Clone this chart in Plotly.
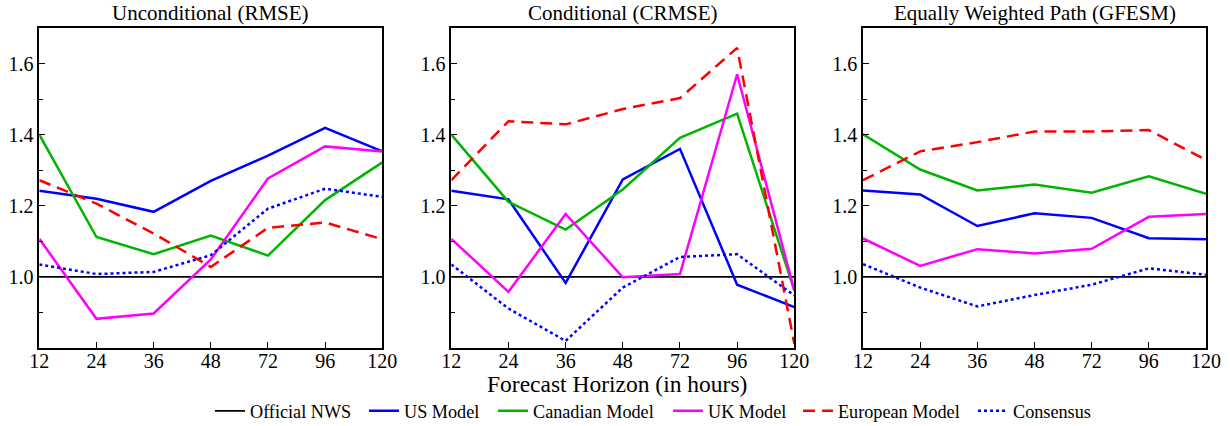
import plotly.graph_objects as go

horizons = ["12", "24", "36", "48", "72", "96", "120"]
panel_titles = ["Unconditional (RMSE)", "Conditional (CRMSE)", "Equally Weighted Path (GFESM)"]
series_names = ["Official NWS", "US Model", "Canadian Model", "UK Model", "European Model", "Consensus"]

official = [1.0, 1.0, 1.0, 1.0, 1.0, 1.0, 1.0]

# Unconditional (RMSE)
us_unc = [1.242, 1.220, 1.183, 1.270, 1.341, 1.419, 1.353]
can_unc = [1.400, 1.112, 1.064, 1.116, 1.060, 1.216, 1.322]
uk_unc = [1.107, 0.882, 0.897, 1.049, 1.277, 1.367, 1.353]
eu_unc = [1.272, 1.206, 1.122, 1.028, 1.138, 1.153, 1.106]
cons_unc = [1.035, 1.008, 1.014, 1.061, 1.192, 1.248, 1.225]

# Conditional (CRMSE)
us_con = [1.242, 1.218, 0.983, 1.274, 1.360, 0.978, 0.915]
can_con = [1.400, 1.211, 1.133, 1.246, 1.391, 1.459, 0.962]
uk_con = [1.107, 0.958, 1.177, 0.999, 1.008, 1.570, 0.962]
eu_con = [1.272, 1.438, 1.429, 1.472, 1.503, 1.644, 0.812]
cons_con = [1.035, 0.911, 0.820, 0.970, 1.056, 1.064, 0.948]

# Equally Weighted Path (GFESM)
us_gf = [1.243, 1.232, 1.143, 1.179, 1.166, 1.109, 1.106]
can_gf = [1.401, 1.302, 1.243, 1.260, 1.237, 1.283, 1.234]
uk_gf = [1.108, 1.031, 1.078, 1.066, 1.079, 1.169, 1.177]
eu_gf = [1.272, 1.353, 1.379, 1.409, 1.409, 1.413, 1.329]
cons_gf = [1.036, 0.970, 0.917, 0.949, 0.978, 1.024, 1.006]

panels = [
    [official, us_unc, can_unc, uk_unc, eu_unc, cons_unc],
    [official, us_con, can_con, uk_con, eu_con, cons_con],
    [official, us_gf, can_gf, uk_gf, eu_gf, cons_gf],
]

styles = [
    dict(color="#000000", width=1.8, dash="solid"),
    dict(color="#0000FF", width=2.5, dash="solid"),
    dict(color="#00B400", width=2.5, dash="solid"),
    dict(color="#FF00FF", width=2.5, dash="solid"),
    dict(color="#FF0000", width=2.5, dash="12px,7px"),
    dict(color="#0000FF", width=2.5, dash="3px,3px"),
]

W, H = 1230, 426


def px(x):
    return x / W


def py(y):
    return (H - y) / H


xdoms = [(39.3, 382.3), (451.3, 794.3), (863.0, 1206.0)]
ydom = [py(348), py(28)]
legend_text_x = [250, 404, 533, 708, 838, 1013]

fig = go.Figure()
font_family = "Liberation Serif"

for p, data in enumerate(panels):
    ax = "" if p == 0 else str(p + 1)
    for s, vals in enumerate(data):
        fig.add_trace(go.Scatter(
            x=horizons, y=vals, mode="lines", name=series_names[s],
            line=styles[s], showlegend=(p == 0),
            legend="legend" if s == 0 else "legend" + str(s + 1),
            xaxis="x" + ax, yaxis="y" + ax,
        ))
    x0, x1 = xdoms[p]
    fig.layout["xaxis" + ax] = dict(
        domain=[px(x0), px(x1)], anchor="y" + ax, type="category",
        range=[0, 6], ticks="inside", ticklen=6, tickwidth=1.2, tickcolor="black",
        showline=True, linecolor="black", linewidth=1.5, mirror=True,
        showgrid=False, zeroline=False, automargin=False, ticklabelstandoff=-6,
        tickfont=dict(family=font_family, size=20, color="black"),
    )
    fig.layout["yaxis" + ax] = dict(
        domain=ydom, anchor="x" + ax, range=[0.8, 1.7],
        tickvals=[1.0, 1.2, 1.4, 1.6], ticktext=["1.0", "1.2", "1.4", "1.6"],
        ticks="inside", ticklen=6, tickwidth=1.2, tickcolor="black",
        minor=dict(tickvals=[0.9, 1.1, 1.3, 1.5], ticks="inside", ticklen=4,
                   tickwidth=1.2, tickcolor="black", showgrid=False),
        showline=True, linecolor="black", linewidth=1.5, mirror=True,
        showgrid=False, zeroline=False, automargin=False,
        tickfont=dict(family=font_family, size=20, color="black"),
    )
    fig.add_annotation(
        x=px((x0 + x1) / 2), y=py(13), xref="paper", yref="paper",
        text=panel_titles[p], showarrow=False,
        font=dict(family=font_family, size=21, color="black"),
        xanchor="center", yanchor="middle",
    )

fig.add_annotation(
    x=px(617), y=py(384), xref="paper", yref="paper",
    text="Forecast Horizon (in hours)", showarrow=False,
    font=dict(family=font_family, size=23.5, color="black"),
    xanchor="center", yanchor="middle",
)

layout_legends = {}
for s, tx in enumerate(legend_text_x):
    key = "legend" if s == 0 else "legend" + str(s + 1)
    layout_legends[key] = dict(
        orientation="h", x=px(tx - 40), xanchor="left", y=py(411), yanchor="middle",
        font=dict(family=font_family, size=18.2, color="black"),
        bgcolor="rgba(0,0,0,0)", borderwidth=0,
    )

fig.update_layout(
    width=W, height=H,
    margin=dict(l=0, r=0, t=0, b=0, autoexpand=False),
    paper_bgcolor="white", plot_bgcolor="white",
    **layout_legends,
)

fig.write_html(
    "out.html",
    config={"displayModeBar": False},
    post_script="document.body.style.margin='0';document.body.style.overflow='hidden';",
)
